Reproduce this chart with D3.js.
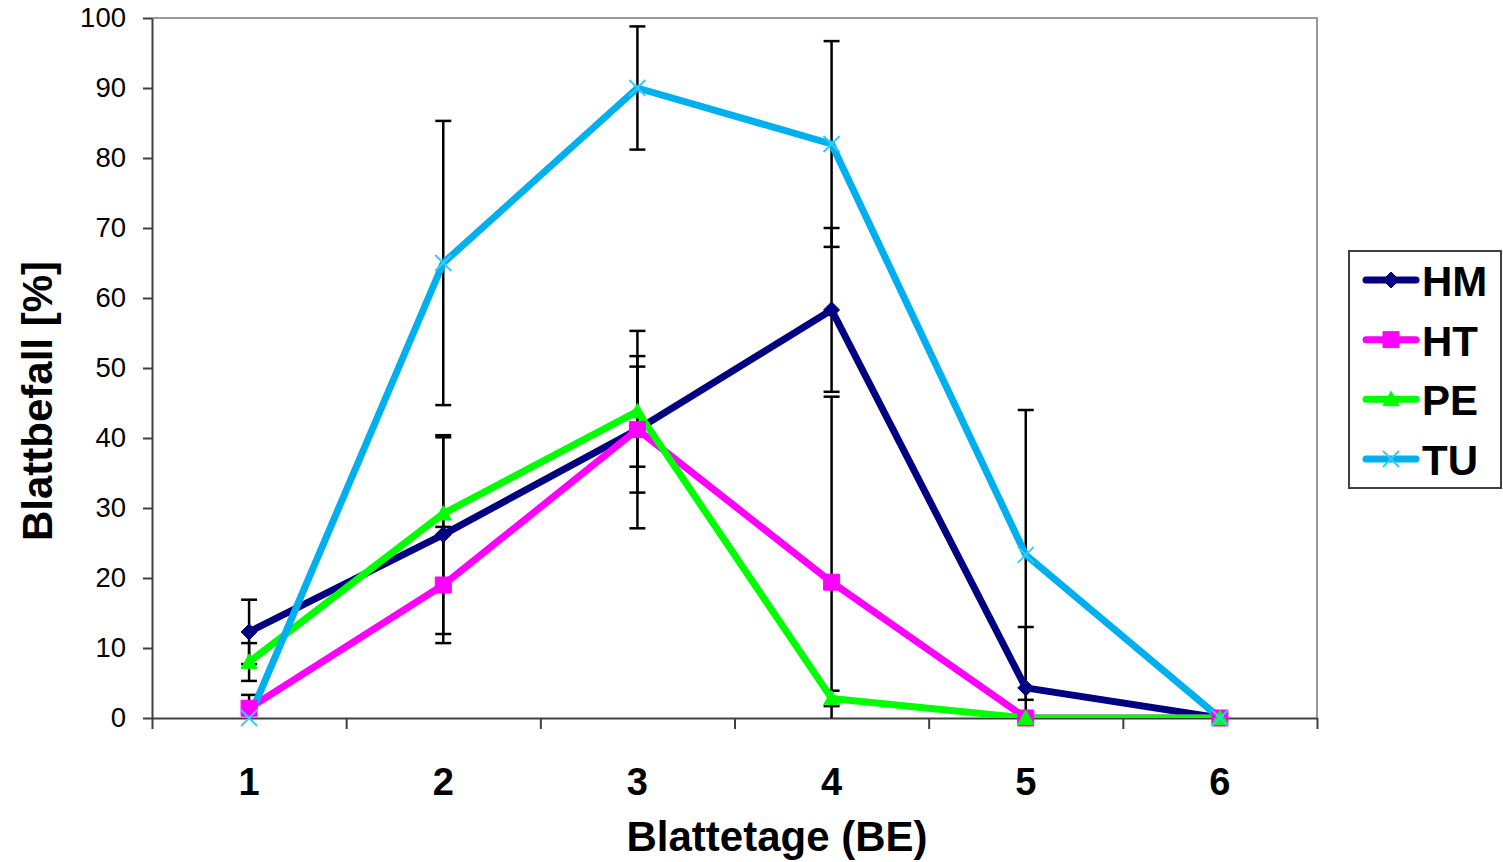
<!DOCTYPE html>
<html>
<head>
<meta charset="utf-8">
<script src="https://cdn.jsdelivr.net/npm/d3@7"></script>
<style>
  body { margin: 0; background: #fff; }
  text { font-family: Arial, "Liberation Sans", sans-serif; }
</style>
</head>
<body>
<div id="chart"></div>
<script>
// values
const stages = [1, 2, 3, 4, 5, 6];
const yTicks = [0, 10, 20, 30, 40, 50, 60, 70, 80, 90, 100];

const hmValues = [12.3, 26.2, 41.2, 58.3, 4.3, 0];
const hmErrors = [4.6, 14.2, 14.1, 11.7, 8.7, 0];
const htValues = [1.4, 19.0, 41.2, 19.4, 0, 0];
const htErrors = [1.9, 8.3, 9.0, 26.5, 0, 0];
const peValues = [8.0, 29.2, 43.8, 2.8, 0, 0];
const peErrors = [2.7, 10.9, 7.9, 1.1, 0, 0];
const tuValues = [0, 65.0, 90.0, 82.0, 23.3, 0];
const tuErrors = [0, 20.3, 8.8, 14.7, 20.7, 0];

const series = [
  { name: "HM", values: hmValues, errors: hmErrors, color: "#000080", marker: "diamond" },
  { name: "HT", values: htValues, errors: htErrors, color: "#FF00FF", marker: "square" },
  { name: "PE", values: peValues, errors: peErrors, color: "#00FF00", marker: "triangle" },
  { name: "TU", values: tuValues, errors: tuErrors, color: "#00B0EE", markerColor: "#33CCFF", marker: "cross" }
];

const W = 1503, H = 862;
const plot = { left: 152, right: 1317, top: 18, bottom: 718 };

const svg = d3.select("#chart").append("svg")
  .attr("width", W).attr("height", H);

const x = d3.scaleBand().domain(stages).range([plot.left, plot.right]).padding(0);
const xEdge = d3.scaleLinear().domain([0.5, 6.5]).range([plot.left, plot.right]);
const y = d3.scaleLinear().domain([0, 100]).range([plot.bottom, plot.top]);
const cx = d => x(d) + x.bandwidth() / 2;

// plot frame (top and right)
svg.append("path")
  .attr("d", `M${plot.left},${plot.top}H${plot.right}V${plot.bottom}`)
  .attr("fill", "none").attr("stroke", "#9a9a9a").attr("stroke-width", 2);

svg.append("defs").append("clipPath").attr("id", "clip")
  .append("rect").attr("x", plot.left).attr("y", plot.top - 5)
  .attr("width", plot.right - plot.left).attr("height", plot.bottom - plot.top + 5);

// axes
const yAxisG = svg.append("g").attr("transform", `translate(${plot.left},0)`)
  .call(d3.axisLeft(y).tickValues(yTicks).tickSize(9).tickPadding(17).tickSizeOuter(0));
yAxisG.selectAll("text").attr("font-size", 27.5).attr("fill", "#000");
yAxisG.selectAll("line, path").attr("stroke", "#404040").attr("stroke-width", 2);

const xEdgeG = svg.append("g").attr("transform", `translate(0,${plot.bottom})`)
  .call(d3.axisBottom(xEdge).tickValues(d3.range(0.5, 7, 1)).tickSize(11).tickFormat("").tickSizeOuter(0));
xEdgeG.selectAll("line, path").attr("stroke", "#404040").attr("stroke-width", 2);

const xAxisG = svg.append("g").attr("transform", `translate(0,${plot.bottom})`)
  .call(d3.axisBottom(x).tickSize(0).tickPadding(50));
xAxisG.select(".domain").remove();
xAxisG.selectAll("text").attr("font-size", 38).attr("font-weight", "bold").attr("fill", "#000");

// axis titles
svg.append("text").attr("x", 777).attr("y", 851).attr("text-anchor", "middle")
  .attr("font-size", 42).attr("font-weight", "bold").text("Blattetage (BE)");
svg.append("text").attr("transform", "translate(52,401) rotate(-90)").attr("text-anchor", "middle")
  .attr("font-size", 42).attr("font-weight", "bold").text("Blattbefall [%]");

const plotG = svg.append("g").attr("clip-path", "url(#clip)");

// error bars
series.forEach(s => {
  const g = plotG.append("g");
  stages.forEach((st, i) => {
    const e = s.errors[i];
    if (!e) return;
    const v = s.values[i];
    const px = cx(st);
    g.append("line").attr("x1", px).attr("x2", px)
      .attr("y1", y(v + e)).attr("y2", y(v - e))
      .attr("stroke", "#000").attr("stroke-width", 2.5);
    [v + e, v - e].forEach(t => {
      g.append("line").attr("x1", px - 8).attr("x2", px + 8)
        .attr("y1", y(t)).attr("y2", y(t))
        .attr("stroke", "#000").attr("stroke-width", 2.5);
    });
  });
});

const line = d3.line().x((d, i) => cx(stages[i])).y(d => y(d));

function markerPath(type, size) {
  const h = size / 2;
  if (type === "diamond") return `M0,${-h}L${h},0L0,${h}L${-h},0Z`;
  if (type === "square") return `M${-h},${-h}H${h}V${h}H${-h}Z`;
  if (type === "triangle") return `M0,${-h}L${h},${h * 0.8}H${-h}Z`;
  return `M${-h},${-h}L${h},${h}M${h},${-h}L${-h},${h}`;
}

function drawMarker(g, s, px, py, size) {
  const p = g.append("path").attr("d", markerPath(s.marker, size))
    .attr("transform", `translate(${px},${py})`);
  if (s.marker === "cross") {
    p.attr("fill", "none").attr("stroke", s.markerColor).attr("stroke-width", 2);
  } else {
    p.attr("fill", s.color).attr("stroke", s.color).attr("stroke-width", 1);
  }
}

// lines and markers
series.forEach(s => {
  plotG.append("path").datum(s.values)
    .attr("d", line).attr("fill", "none")
    .attr("stroke", s.color).attr("stroke-width", 7).attr("stroke-linejoin", "round");
  s.values.forEach((v, i) => drawMarker(svg, s, cx(stages[i]), y(v), 16));
});

// legend
const legend = svg.append("g");
legend.append("rect").attr("x", 1349).attr("y", 251).attr("width", 152).attr("height", 237)
  .attr("fill", "#fff").attr("stroke", "#404040").attr("stroke-width", 2);
const rowY = d3.scalePoint().domain(series.map(s => s.name)).range([280, 459]);
series.forEach(s => {
  const ry = rowY(s.name);
  legend.append("line").attr("x1", 1366).attr("x2", 1416).attr("y1", ry).attr("y2", ry)
    .attr("stroke", s.color).attr("stroke-width", 7).attr("stroke-linecap", "round");
  drawMarker(legend, s, 1391, ry, 16);
  legend.append("text").attr("x", 1422).attr("y", ry + 16)
    .attr("font-size", 42).attr("font-weight", "bold").text(s.name);
});
</script>
</body>
</html>
